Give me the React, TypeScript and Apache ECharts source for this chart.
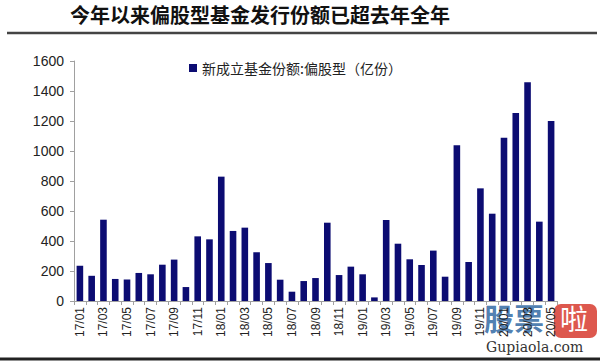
import React, { useEffect, useRef } from "react";
import * as echarts from "echarts";

const categories: string[] = [
  "17/01", "17/02", "17/03", "17/04", "17/05", "17/06", "17/07", "17/08", "17/09", "17/10", "17/11", "17/12",
  "18/01", "18/02", "18/03", "18/04", "18/05", "18/06", "18/07", "18/08", "18/09", "18/10", "18/11", "18/12",
  "19/01", "19/02", "19/03", "19/04", "19/05", "19/06", "19/07", "19/08", "19/09", "19/10", "19/11", "19/12",
  "20/01", "20/02", "20/03", "20/04", "20/05",
];

const values: number[] = [
  235, 168, 542, 147, 144, 187, 178, 242, 276, 93, 431, 411,
  829, 467, 489, 325, 253, 142, 62, 133, 153, 522, 173, 229,
  178, 24, 540, 382, 278, 240, 336, 162, 1038, 260, 751, 582,
  1089, 1254, 1458, 529, 1200,
];

const yTicks = { min: 0, max: 1600, interval: 200 };

const seriesName = "新成立基金份额:偏股型（亿份）";
const titleText = "今年以来偏股型基金发行份额已超去年全年";

export default function App() {
  const ref = useRef<HTMLDivElement>(null);

  useEffect(() => {
    if (!ref.current) return;
    const chart = echarts.init(ref.current, undefined, { renderer: "svg" });
    chart.setOption({
      animation: false,
      backgroundColor: "#ffffff",
      grid: { left: 74, right: 43, top: 61, bottom: 60, containLabel: false },
      legend: {
        left: 184,
        top: 56,
        icon: "rect",
        itemWidth: 8,
        itemHeight: 8,
        itemGap: 4,
        textStyle: { fontSize: 14, color: "#222", fontFamily: "Noto Sans CJK SC" },
        data: [seriesName],
      },
      xAxis: {
        type: "category",
        data: categories,
        axisLine: { lineStyle: { color: "#a0a0a0", width: 1 } },
        axisTick: { show: true, interval: 0, length: 4, lineStyle: { color: "#a0a0a0" } },
        axisLabel: {
          interval: 1,
          rotate: 90,
          fontSize: 12,
          color: "#222",
          fontFamily: "Liberation Sans",
          margin: 6,
        },
      },
      yAxis: {
        type: "value",
        min: yTicks.min,
        max: yTicks.max,
        interval: yTicks.interval,
        axisLine: { show: true, lineStyle: { color: "#a0a0a0", width: 1 } },
        axisTick: { show: true, length: 4, lineStyle: { color: "#a0a0a0" } },
        splitLine: { show: false },
        axisLabel: {
          fontSize: 14,
          color: "#222",
          fontFamily: "Liberation Sans",
          margin: 10,
          formatter: (v: number) => String(v),
        },
      },
      series: [
        {
          name: seriesName,
          type: "bar",
          data: values,
          barCategoryGap: "44%",
          itemStyle: { color: "#0c0c72" },
        },
      ],
      graphic: [
        {
          type: "text",
          x: 70,
          y: 14,
          style: {
            text: titleText,
            font: "bold 20px 'Noto Sans CJK SC'",
            fill: "#111",
            textVerticalAlign: "middle",
            verticalAlign: "middle",
            lineHeight: 22,
          },
        },
        {
          type: "line",
          shape: { x1: 7, y1: 33, x2: 597, y2: 33 },
          style: { stroke: "#444", lineWidth: 2.5 },
        },
        {
          type: "line",
          shape: { x1: 0, y1: 359, x2: 600, y2: 359 },
          style: { stroke: "#222", lineWidth: 3 },
        },
        {
          type: "rect",
          shape: { x: 484, y: 303, width: 116, height: 54 },
          style: { fill: "#ffffff", opacity: 0.95 },
        },
        {
          type: "text",
          left: 484,
          top: 302,
          style: {
            text: "股票",
            font: "bold 30px 'Noto Sans CJK SC'",
            fill: "#3a6fa8",
            opacity: 0.9,
          },
        },
        {
          type: "rect",
          shape: { x: 554, y: 304, width: 43, height: 34, r: 7 },
          style: { fill: "#d9463b", opacity: 0.9 },
        },
        {
          type: "text",
          left: 560,
          top: 304,
          style: {
            text: "啦",
            font: "28px 'Noto Sans CJK SC'",
            fill: "#ffffff",
          },
        },
        {
          type: "text",
          left: 486,
          top: 340,
          style: {
            text: "Gupiaola.com",
            font: "14px 'DejaVu Serif'",
            fill: "#333",
          },
        },
      ],
    });
    return () => chart.dispose();
  }, []);

  return (
    <div
      ref={ref}
      style={{ position: "fixed", left: 0, top: 0, width: 600, height: 361 }}
    />
  );
}
